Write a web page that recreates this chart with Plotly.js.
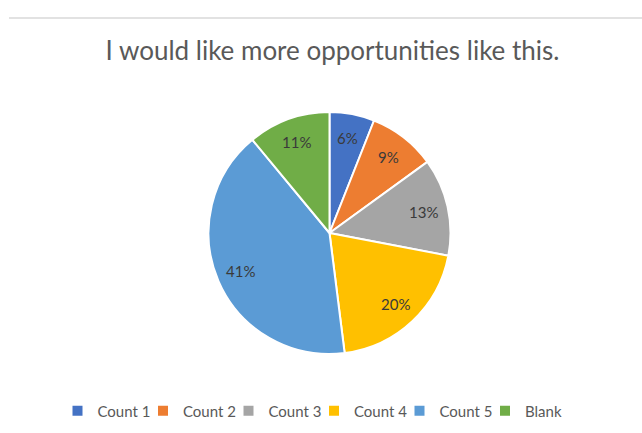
<!DOCTYPE html>
<html>
<head>
<meta charset="utf-8">
<script src="https://cdn.plot.ly/plotly-3.0.1.min.js"></script>
<style>html,body{margin:0;padding:0;background:#fff;}#chart{width:642px;height:433px;}</style>
</head>
<body>
<div id="chart"></div>
<script>
const categories = ["Count 1", "Count 2", "Count 3", "Count 4", "Count 5", "Blank"];
const percents = [6, 9, 13, 20, 41, 11];
const colors = ["#4472C4", "#ED7D31", "#A5A5A5", "#FFC000", "#5B9BD5", "#70AD47"];
const chartTitle = "I would like more opportunities like this.";

const W = 642, H = 433;
const FONT = "Lato, Open Sans, Liberation Sans, sans-serif";
const dom = { x: [208 / W, 451 / W], y: [1 - 354 / H, 1 - 112 / H] };

const trace = {
  type: "pie",
  labels: categories,
  values: percents,
  sort: false,
  direction: "clockwise",
  rotation: 0,
  marker: { colors: colors, line: { color: "#ffffff", width: 2 } },
  textinfo: "none",
  hoverinfo: "label+percent",
  domain: dom
};

// data labels placed at 80% of the radius along each slice's mid-angle
const total = percents.reduce((a, b) => a + b, 0);
const cxPx = (dom.x[0] + dom.x[1]) / 2 * W;
const cyPx = (1 - (dom.y[0] + dom.y[1]) / 2) * H;
const rPx = Math.min((dom.x[1] - dom.x[0]) * W, (dom.y[1] - dom.y[0]) * H) / 2;
let cum = 0;
const annotations = percents.map((v) => {
  const mid = (cum + v / 2) / total * 2 * Math.PI;
  cum += v;
  const px = cxPx + 0.8 * rPx * Math.sin(mid);
  const py = cyPx - 0.8 * rPx * Math.cos(mid);
  return {
    xref: "paper", yref: "paper", x: px / W, y: 1 - py / H,
    xanchor: "center", yanchor: "middle", showarrow: false,
    text: Math.round(v / total * 100) + "%",
    font: { family: FONT, size: 15, color: "#3a3a3a" }
  };
});

const layout = {
  width: W, height: H,
  margin: { l: 0, r: 0, t: 0, b: 0 },
  paper_bgcolor: "#ffffff",
  title: {
    text: chartTitle,
    font: { family: FONT, size: 26, color: "#595959" },
    x: 332.5 / W, xanchor: "center", y: 1 - 51 / H, yanchor: "middle"
  },
  showlegend: true,
  legend: {
    orientation: "h",
    x: 0.5 - 7 / W, xanchor: "center",
    y: 1 - 411 / H, yanchor: "middle",
    font: { family: FONT, size: 15, color: "#595959" },
    itemwidth: 30,
    entrywidth: 40.5,
    entrywidthmode: "pixels",
    traceorder: "normal"
  },
  annotations: annotations,
  shapes: [{
    type: "line", xref: "paper", yref: "paper",
    x0: 9 / W, x1: 1, y0: 1 - 18 / H, y1: 1 - 18 / H,
    line: { color: "#d9d9d9", width: 1.5 }
  }]
};

Plotly.newPlot("chart", [trace], layout, { displayModeBar: false, staticPlot: true });
</script>
</body>
</html>
